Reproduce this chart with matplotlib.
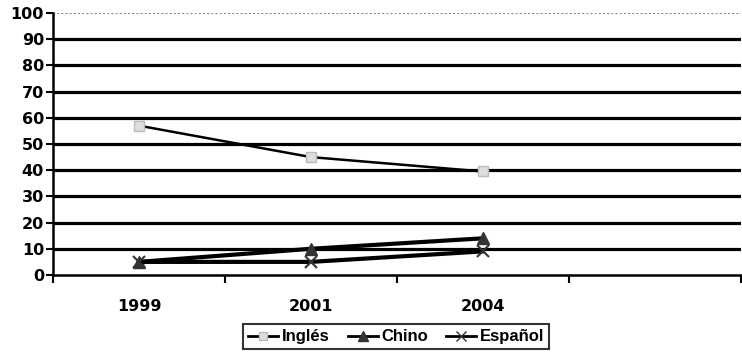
import matplotlib.pyplot as plt
from matplotlib.lines import Line2D

plt.rcParams['font.family'] = ['DejaVu Sans']

years = ['1999', '2001', '2004']
ingles = [57, 45, 39.5]
chino = [5, 10, 14]
espanol = [5, 5, 9]
n_cats = 4  # the last category is empty

fig = plt.figure(figsize=(7.42, 3.55), dpi=100)
ax = fig.add_axes([0.0714, 0.2254, 0.927, 0.738])

x = list(range(len(years)))

# gridlines
for v in range(10, 100, 10):
    ax.axhline(v, color='black', lw=2.3, zorder=1)
ax.axhline(100, color='#888888', lw=1.5, ls=(0, (1, 1)), zorder=1)

ax.plot(x, ingles, color='black', lw=1.8, marker='s', ms=7,
        mfc='#dddddd', mec='#bbbbbb', zorder=3)
ax.plot(x, chino, color='black', lw=3, marker='^', ms=8,
        mfc='#333333', mec='#333333', zorder=3)
ax.plot(x, espanol, color='black', lw=3, marker='x', ms=9,
        mec='#333333', mew=1.5, zorder=4)

ax.set_xlim(-0.5, n_cats - 0.5)
ax.set_ylim(0, 100)
ax.set_yticks(range(0, 101, 10))
ax.set_yticklabels([str(v) for v in range(0, 101, 10)],
                   fontsize=11.5, fontweight='bold')
ax.set_xticks([i - 0.5 for i in range(n_cats + 1)])
ax.set_xticklabels([])
ax.set_xticks(x, minor=True)
ax.set_xticklabels(years, minor=True, fontsize=11.5, fontweight='bold')
ax.tick_params(axis='x', which='minor', length=0, pad=17)
ax.tick_params(axis='x', which='major', length=6, width=1.5, direction='out')
ax.tick_params(axis='y', length=5, width=1.5, direction='out', pad=1.5)

for s in ['top', 'right']:
    ax.spines[s].set_visible(False)
for s in ['left', 'bottom']:
    ax.spines[s].set_linewidth(1.8)

handles = [
    Line2D([], [], color='black', lw=2, marker='s', ms=6, mfc='#dddddd', mec='#bbbbbb'),
    Line2D([], [], color='black', lw=2, marker='^', ms=7, mfc='#333333', mec='#333333'),
    Line2D([], [], color='black', lw=2, marker='x', ms=7, mec='#333333'),
]
leg = fig.legend(handles, ['Inglés', 'Chino', 'Español'], loc='center',
                 bbox_to_anchor=(0.534, 0.051), ncol=3, frameon=True,
                 fancybox=False, edgecolor='black', handlelength=1.8,
                 handletextpad=0.2, columnspacing=1.1, borderpad=0.3,
                 prop={'family': 'Liberation Sans', 'weight': 'bold', 'size': 12})
leg.get_frame().set_linewidth(1.5)

fig.savefig('out.png', dpi=100)
